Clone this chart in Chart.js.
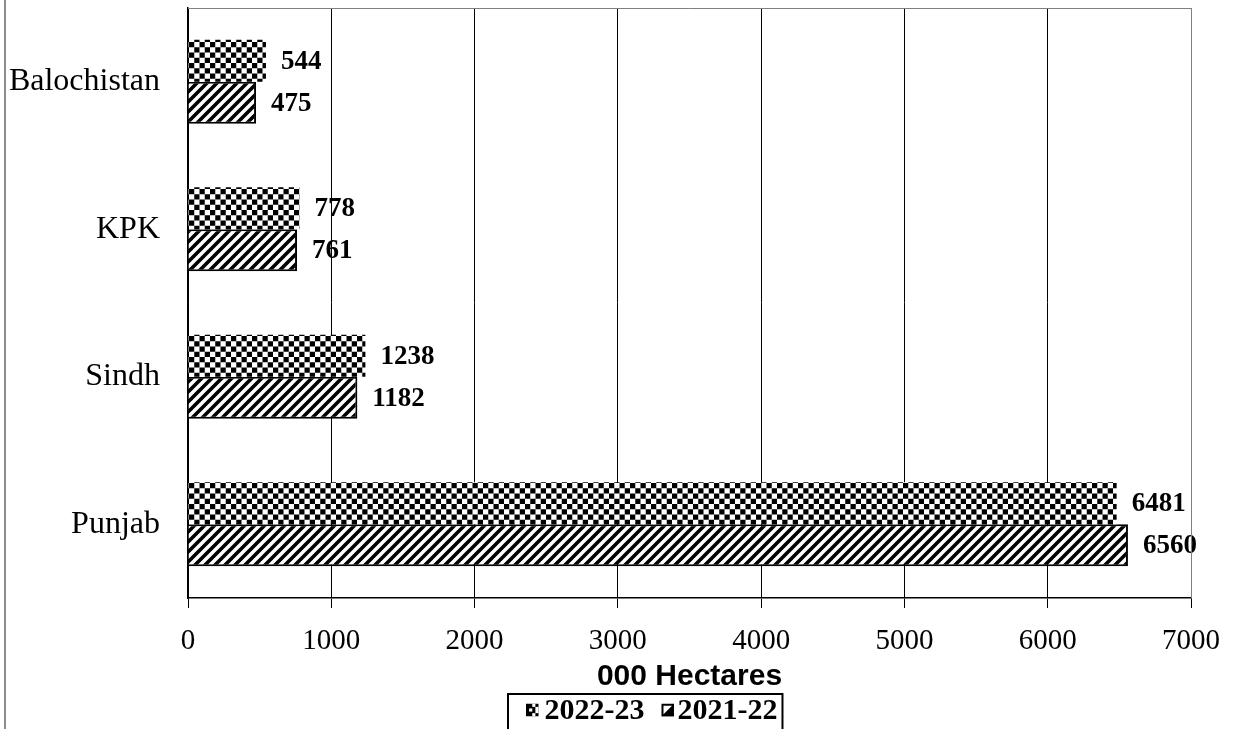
<!DOCTYPE html>
<html>
<head>
<meta charset="utf-8">
<title>Area by province</title>
<script src="https://cdn.jsdelivr.net/npm/chart.js@4.4.1/dist/chart.umd.min.js"></script>
<style>
  html, body { margin: 0; padding: 0; background: #fff; }
  #wrap { width: 1233px; height: 729px; position: relative; }
</style>
</head>
<body>
<div id="wrap"><canvas id="chart" width="1233" height="729"></canvas></div>
<script>
// Provinces, top to bottom
const provinces = ['Balochistan', 'KPK', 'Sindh', 'Punjab'];
// Area (000 hectares) per season
const area2022_23 = [544, 778, 1238, 6481];
const area2021_22 = [475, 761, 1182, 6560];
const seasonLabels = ['2022-23', '2021-22'];
const xTicks = [0, 1000, 2000, 3000, 4000, 5000, 6000, 7000];

const SERIF = '"Liberation Serif", "Times New Roman", serif';
const SANS = '"Liberation Sans", Arial, sans-serif';

// Black-and-white checkerboard fill
function checkerPattern() {
  const c = document.createElement('canvas');
  c.width = 21; c.height = 21;
  const g = c.getContext('2d');
  g.fillStyle = '#fff';
  g.fillRect(0, 0, 21, 21);
  g.fillStyle = '#000';
  const s = 21 / 4;
  for (let r = 0; r < 4; r++) {
    for (let k = 0; k < 4; k++) {
      if ((r + k) % 2 === 0) g.fillRect(k * s, r * s, s, s);
    }
  }
  return g.createPattern(c, 'repeat');
}

// Wide diagonal stripes rising to the right
function hatchPattern() {
  const n = 10;
  const c = document.createElement('canvas');
  c.width = n; c.height = n;
  const g = c.getContext('2d');
  g.fillStyle = '#fff';
  g.fillRect(0, 0, n, n);
  g.strokeStyle = '#000';
  g.lineWidth = 3.6;
  g.beginPath();
  g.moveTo(-n, 2 * n); g.lineTo(2 * n, -n);
  g.moveTo(-n, n); g.lineTo(n, -n);
  g.moveTo(0, 2 * n); g.lineTo(2 * n, 0);
  g.stroke();
  return g.createPattern(c, 'repeat');
}

const checker = checkerPattern();
const hatch = hatchPattern();

// Value labels at the end of each bar
const valueLabels = {
  id: 'valueLabels',
  afterDatasetsDraw(chart) {
    const ctx = chart.ctx;
    ctx.save();
    ctx.fillStyle = '#000';
    ctx.font = 'bold 27px ' + SERIF;
    ctx.textAlign = 'left';
    ctx.textBaseline = 'middle';
    chart.data.datasets.forEach((ds, i) => {
      chart.getDatasetMeta(i).data.forEach((bar, j) => {
        ctx.fillText(String(ds.data[j]), bar.x + 15, bar.y + 1);
      });
    });
    ctx.restore();
  }
};

// Small legend swatches
function drawCheckerSwatch(ctx, x, y, s) {
  ctx.fillStyle = '#000';
  ctx.fillRect(x, y, s, s);
  ctx.fillStyle = '#fff';
  const q = s / 4;
  ctx.fillRect(x + 2 * q, y, q, q);
  ctx.fillRect(x + 3 * q, y + q, q, 2 * q);
  ctx.fillRect(x + 2 * q, y + 3 * q, q, q);
  ctx.fillRect(x + q, y + 1.5 * q, q, q);
}
function drawHatchSwatch(ctx, x, y, s) {
  ctx.fillStyle = '#fff';
  ctx.fillRect(x, y, s, s);
  ctx.fillStyle = '#000';
  ctx.beginPath();
  ctx.moveTo(x + s, y);
  ctx.lineTo(x + s, y + s);
  ctx.lineTo(x, y + s);
  ctx.closePath();
  ctx.fill();
  ctx.strokeStyle = '#000';
  ctx.lineWidth = 2;
  ctx.strokeRect(x + 1, y + 1, s - 2, s - 2);
}

// Plot frame, outer edge line and boxed legend
const frame = {
  id: 'frame',
  afterDraw(chart) {
    const ctx = chart.ctx;
    const a = chart.chartArea;
    ctx.save();
    // gray top and right edge of the plot area
    ctx.strokeStyle = '#808080';
    ctx.lineWidth = 1;
    ctx.beginPath();
    ctx.moveTo(a.left, a.top + 0.5);
    ctx.lineTo(a.right + 0.5, a.top + 0.5);
    ctx.lineTo(a.right + 0.5, a.bottom);
    ctx.stroke();
    // outer chart edge on the left
    ctx.strokeStyle = '#8c8c8c';
    ctx.lineWidth = 2;
    ctx.beginPath();
    ctx.moveTo(5, 0);
    ctx.lineTo(5, chart.height);
    ctx.stroke();

    // legend
    const boxLeft = a.left + 320;
    const boxTop = 694;
    const sw = 12.5;
    const midY = 710;
    ctx.font = 'bold 30px ' + SERIF;
    ctx.textBaseline = 'middle';
    ctx.textAlign = 'left';
    const swatches = [drawCheckerSwatch, drawHatchSwatch];
    const swatchGap = [6, 3.5];
    let x = boxLeft + 18;
    seasonLabels.forEach((label, i) => {
      swatches[i](ctx, x, midY - sw / 2, sw);
      x += sw + swatchGap[i];
      ctx.fillStyle = '#000';
      ctx.fillText(label, x, midY + 1);
      x += ctx.measureText(label).width;
      if (i < seasonLabels.length - 1) x += 17;
    });
    const boxRight = x + 5;
    ctx.strokeStyle = '#000';
    ctx.lineWidth = 2;
    ctx.strokeRect(boxLeft, boxTop, boxRight - boxLeft, chart.height - boxTop + 5);
    ctx.restore();
  }
};

new Chart(document.getElementById('chart'), {
  type: 'bar',
  data: {
    labels: provinces,
    datasets: [
      {
        label: seasonLabels[0],
        data: area2022_23,
        backgroundColor: checker,
        borderColor: '#000',
        borderWidth: 0
      },
      {
        label: seasonLabels[1],
        data: area2021_22,
        backgroundColor: hatch,
        borderColor: '#000',
        borderWidth: 2
      }
    ]
  },
  options: {
    indexAxis: 'y',
    responsive: false,
    animation: false,
    devicePixelRatio: 1,
    categoryPercentage: 0.568,
    barPercentage: 1.0,
    layout: { padding: { top: 8, right: 42, left: 0, bottom: 0 } },
    plugins: {
      tooltip: { enabled: false },
      legend: { display: false }
    },
    scales: {
      x: {
        min: 0,
        max: 7000,
        afterBuildTicks(scale) {
          scale.ticks = xTicks.map(v => ({ value: v }));
        },
        afterFit(scale) {
          scale.height = 131;
          scale.paddingLeft = 0;
          scale.paddingRight = 0;
        },
        ticks: {
          color: '#000',
          padding: 16,
          maxRotation: 0,
          font: { family: SERIF, size: 29 },
          callback: v => String(v)
        },
        grid: {
          color: ctx => (ctx.tick && ctx.tick.value === 7000 ? '#808080' : '#000'),
          tickColor: '#000',
          lineWidth: 1,
          tickLength: 10,
          drawOnChartArea: true
        },
        border: { color: '#000', width: 1.5 },
        title: {
          display: true,
          text: '000 Hectares',
          color: '#000',
          font: { family: SANS, size: 30, weight: 'bold' },
          padding: { top: 0, bottom: 34 }
        }
      },
      y: {
        afterFit(scale) {
          scale.width = 188;
          scale.paddingTop = 0;
          scale.paddingBottom = 0;
        },
        ticks: {
          color: '#000',
          padding: 28,
          font: { family: SERIF, size: 32 }
        },
        grid: { display: false, drawTicks: false },
        border: { color: '#000', width: 1.5 }
      }
    }
  },
  plugins: [valueLabels, frame]
});
</script>
</body>
</html>
